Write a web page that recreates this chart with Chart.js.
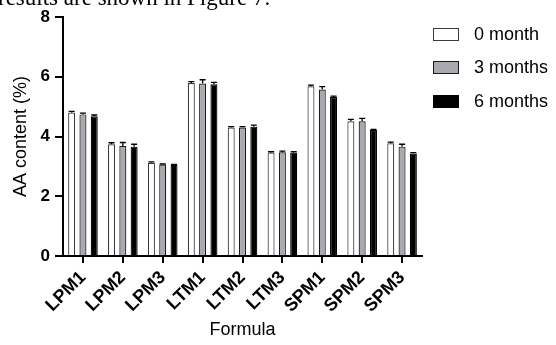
<!DOCTYPE html>
<html>
<head>
<meta charset="utf-8">
<script src="https://cdn.jsdelivr.net/npm/chart.js@4.4.1/dist/chart.umd.min.js"></script>
<style>
  html, body { margin:0; padding:0; background:#fff; }
  #wrap { position:relative; width:556px; height:345px; overflow:hidden; background:#fff; }
  #chart { position:absolute; left:0; top:0; }
  #toptext { position:absolute; left:-2px; top:-17px; font-family:"Liberation Serif","Times New Roman",serif; font-size:23px; line-height:30px; color:#000; white-space:nowrap; }
  .leg { position:absolute; left:433px; font-family:"Liberation Sans",Arial,sans-serif; font-size:18px; color:#000; height:14px; }
  .leg .box { position:absolute; left:0; top:0; width:24px; height:11px; }
  .leg .lab { position:absolute; left:41px; top:-4px; line-height:20px; white-space:nowrap; }
</style>
</head>
<body>
<div id="wrap">
  <canvas id="chart" width="556" height="345"></canvas>
  <div id="toptext">results are shown in Figure 7.</div>
  <div id="legend"></div>
</div>
<script>
const categories = ["LPM1","LPM2","LPM3","LTM1","LTM2","LTM3","SPM1","SPM2","SPM3"];
const seriesNames = ["0 month","3 months","6 months"];
const month0 = [4.80, 3.74, 3.12, 5.79, 4.30, 3.46, 5.68, 4.51, 3.77];
const month3 = [4.74, 3.68, 3.06, 5.77, 4.30, 3.47, 5.57, 4.51, 3.66];
const month6 = [4.68, 3.66, 3.05, 5.75, 4.33, 3.46, 5.32, 4.22, 3.43];
const err0 = [0.04, 0.05, 0.03, 0.05, 0.03, 0.03, 0.04, 0.06, 0.04];
const err3 = [0.04, 0.12, 0.02, 0.13, 0.03, 0.04, 0.10, 0.10, 0.08];
const err6 = [0.04, 0.08, 0.02, 0.06, 0.05, 0.03, 0.03, 0.02, 0.03];
const yTicks = [0, 2, 4, 6, 8];

const fills = ["#ffffff", "#a9a9af", "#000000"];
const borders = ["#3a3a3a", "#1a1a1a", "#000000"];
const values = [month0, month3, month6];
const errors = [err0, err3, err6];

// HTML legend
const legTops = [28, 61, 95];
const legend = document.getElementById('legend');
seriesNames.forEach((n, i) => {
  const d = document.createElement('div');
  d.className = 'leg';
  d.style.top = legTops[i] + 'px';
  d.innerHTML = '<div class="box" style="background:' + fills[i] + ';border:1.5px solid ' + borders[i] + '"></div><div class="lab">' + n + '</div>';
  legend.appendChild(d);
});

const errorBars = {
  id: 'errorBars',
  afterDatasetsDraw(chart) {
    const ctx = chart.ctx;
    const y = chart.scales.y;
    ctx.save();
    ctx.strokeStyle = '#000';
    ctx.lineWidth = 1.3;
    chart.data.datasets.forEach((ds, di) => {
      const meta = chart.getDatasetMeta(di);
      meta.data.forEach((bar, i) => {
        const v = ds.data[i];
        const e = ds.errors[i];
        const yTop = y.getPixelForValue(v + e);
        const yv = y.getPixelForValue(v);
        ctx.beginPath();
        ctx.moveTo(bar.x, yv);
        ctx.lineTo(bar.x, yTop);
        ctx.moveTo(bar.x - 3, yTop);
        ctx.lineTo(bar.x + 3, yTop);
        ctx.stroke();
      });
    });
    ctx.restore();
  }
};

const datasets = seriesNames.map((n, i) => ({
  label: n,
  data: values[i],
  errors: errors[i],
  backgroundColor: fills[i],
  borderColor: borders[i],
  borderWidth: 1.2,
  borderSkipped: 'bottom',
  categoryPercentage: 0.85,
  barPercentage: 0.62
}));

new Chart(document.getElementById('chart'), {
  type: 'bar',
  data: { labels: categories, datasets },
  plugins: [errorBars],
  options: {
    responsive: false,
    animation: false,
    devicePixelRatio: 1,
    layout: { padding: { top: 17, right: 134, left: 0, bottom: 4 } },
    plugins: { legend: { display: false }, tooltip: { enabled: false } },
    scales: {
      x: {
        grid: { display: true, drawOnChartArea: false, drawTicks: true, tickLength: 7, color: '#000', lineWidth: 2, offset: false },
        border: { display: true, color: '#000', width: 2 },
        ticks: { color: '#000', font: { family: 'Liberation Sans', size: 18, weight: 'bold' }, maxRotation: 45, minRotation: 45, padding: 4 },
        title: { display: true, text: 'Formula', color: '#000', font: { family: 'Liberation Sans', size: 18 }, padding: { top: 2, bottom: 0 } },
        afterFit(s) { s.height = 85; }
      },
      y: {
        min: 0, max: 8,
        afterBuildTicks(s) { s.ticks = yTicks.map(v => ({ value: v })); },
        grid: { display: true, drawOnChartArea: false, drawTicks: true, tickLength: 8, color: '#000', lineWidth: 2 },
        border: { display: true, color: '#000', width: 2 },
        ticks: { color: '#000', font: { family: 'Liberation Sans', size: 17, weight: 'bold' }, padding: 5 },
        title: { display: true, text: 'AA content (%)', color: '#000', font: { family: 'Liberation Sans', size: 18 }, padding: { top: 10, bottom: 4 } },
        afterFit(s) { s.width = 63; }
      }
    }
  }
});
</script>
</body>
</html>
